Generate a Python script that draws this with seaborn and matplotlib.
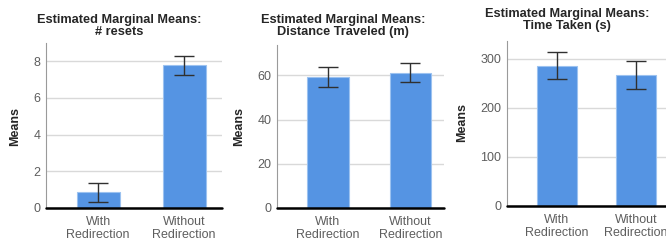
import matplotlib
matplotlib.use("Agg")
import matplotlib.pyplot as plt
import seaborn as sns

sns.set_style("white")
plt.rcParams['font.family'] = ['Liberation Sans', 'DejaVu Sans']

# ── data ────────────────────────────────────────────────
conditions = ["With\nRedirection", "Without\nRedirection"]

resets_mean = [0.85, 7.8]
resets_lo = [0.32, 7.28]
resets_hi = [1.35, 8.3]

distance_mean = [59.1, 61.2]
distance_lo = [54.9, 57.0]
distance_hi = [63.6, 65.7]

time_mean = [286, 267]
time_lo = [258, 239]
time_hi = [314, 295]

titles = ["Estimated Marginal Means:\n# resets",
          "Estimated Marginal Means:\nDistance Traveled (m)",
          "Estimated Marginal Means:\nTime Taken (s)"]
yticks = [[0, 2, 4, 6, 8], [0, 20, 40, 60], [0, 100, 200, 300]]
ylims = [9.0, 73.7, 336]

# ── layout (pixels) ─────────────────────────────────────
W, H = 666, 244
fig = plt.figure(figsize=(W / 100, H / 100), dpi=100)

# left, right, bottom(from top), top(from top), xlim
panels = [
    (46, 222, 208, 43, (-0.605, 1.44)),
    (277, 444, 208, 45, (-0.62, 1.41)),
    (507, 666, 206, 41, (-0.63, 1.38)),
]
title_pos = [(119, 26), (343, 26), (567, 20)]
ylabel_pos = [(15, 127), (239, 127), (462, 123)]

series = [(resets_mean, resets_lo, resets_hi),
          (distance_mean, distance_lo, distance_hi),
          (time_mean, time_lo, time_hi)]

bar_color = "#5594e3"
tick_color = "#5e5e5e"

for i, (l, r, b, t, xl) in enumerate(panels):
    ax = fig.add_axes([l / W, (H - b) / H, (r - l) / W, (b - t) / H])
    means, lo, hi = series[i]
    sns.barplot(x=conditions, y=means, ax=ax, color=bar_color, width=0.5,
                errorbar=None, saturation=1, edgecolor="#9cc2f0", linewidth=0.8,
                zorder=3)
    yerr = [[m - a for m, a in zip(means, lo)], [c - m for m, c in zip(means, hi)]]
    ax.errorbar(range(len(conditions)), means, yerr=yerr, fmt="none",
                ecolor="#303030", elinewidth=1.0, capsize=7.5, capthick=1.0,
                zorder=4)
    ax.set_xlim(*xl)
    ax.set_ylim(0, ylims[i])
    ax.set_yticks(yticks[i])
    ax.yaxis.grid(True, color="#d9d9d9", linewidth=1.0, zorder=0)
    ax.set_axisbelow(True)
    ax.axhline(0, color="black", linewidth=1.8, zorder=5, clip_on=False)
    for s in ["top", "right", "bottom"]:
        ax.spines[s].set_visible(False)
    ax.spines["left"].set_color("#9a9a9a")
    ax.spines["left"].set_linewidth(0.8)
    ax.tick_params(axis="both", length=0, labelsize=9, labelcolor=tick_color)
    ax.tick_params(axis="x", pad=6)
    ax.tick_params(axis="y", pad=4)
    for lab in ax.get_xticklabels():
        lab.set_linespacing(1.05)
    ax.set_xlabel("")
    ax.set_ylabel("")

    tx, ty = title_pos[i]
    fig.text(tx / W, 1 - ty / H, titles[i], ha="center", va="center",
             fontsize=9.2, fontweight="bold", linespacing=0.95)
    lx, ly = ylabel_pos[i]
    fig.text(lx / W, 1 - ly / H, "Means", ha="center", va="center",
             rotation=90, fontsize=9, fontweight="bold")

fig.savefig("out.png", dpi=100)
